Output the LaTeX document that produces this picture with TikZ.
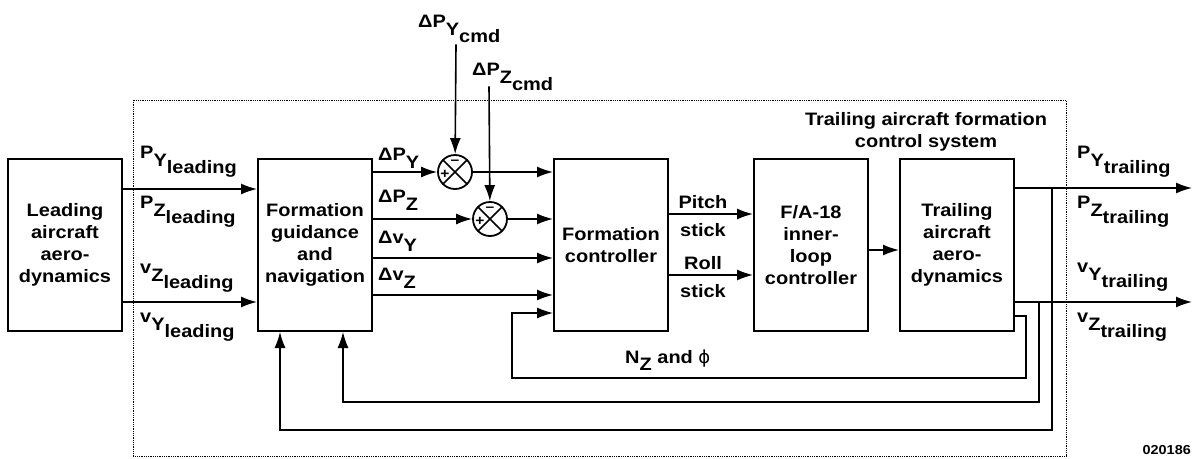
\documentclass[tikz,border=0pt]{standalone}
\usepackage{fontspec}
\setmainfont{Liberation Sans}[FakeStretch=1.11]
\newfontfamily\symfont{DejaVu Sans}
\usetikzlibrary{positioning,arrows.meta}

\newcommand{\sig}[3]{#1\raisebox{-8pt}{#2}\raisebox{-15pt}{#3}}

\begin{document}
\begin{tikzpicture}[
x=1pt, y=-1pt,
font=\fontsize{18}{22}\selectfont\bfseries,
block/.style={rectangle, draw, line width=2pt, align=center, minimum width=114pt, minimum height=172pt, inner sep=0pt},
lbl/.style={inner sep=0pt, anchor=base west},
sum/.style={circle, draw, line width=1.8pt, minimum size=34pt, inner sep=0pt,
  path picture={
    \draw[line width=1.6pt] (path picture bounding box.north west) -- (path picture bounding box.south east)
      (path picture bounding box.north east) -- (path picture bounding box.south west);
    \node[font=\fontsize{14}{14}\selectfont\bfseries, inner sep=0pt] at ([xshift=-10pt,yshift=-2pt]path picture bounding box.center) {+};
    \node[font=\fontsize{14}{14}\selectfont\bfseries, inner sep=0pt] at ([yshift=10pt]path picture bounding box.center) {–};
  }},
arrow/.style={-{Latex[length=16pt,width=11pt]}, line width=1.6pt},
fb/.style={line width=1.3pt}
]
\useasboundingbox (0,0) rectangle (1193,458);

% system frame
\draw[densely dotted, line width=0.8pt] (133,100) rectangle (1066,456);
\node (title) at (926,132) [align=center] {Trailing aircraft formation\\control system};

% blocks
\node[block] (lead) at (65,245) {Leading\\aircraft\\aero-\\dynamics};
\node[block, right=134pt of lead] (guid) {Formation\\guidance\\and\\navigation};
\node[block, right=180pt of guid] (ctrl) {Formation\\controller};
\node[block, right=84pt of ctrl] (fa) {F/A-18\\inner-\\loop\\controller};
\node[block, right=30pt of fa] (trail) {Trailing\\aircraft\\aero-\\dynamics};

\node[sum] (s1) at (455,172) {};
\node[sum] (s2) at (490,219) {};

% signal labels
\node[lbl] (pyl) at (140,158) {\sig{P}{Y}{leading}};
\node[lbl] (pzl) at (140,208) {\sig{P}{Z}{leading}};
\node[lbl] (vzl) at (140,273) {\sig{v}{Z}{leading}};
\node[lbl] (vyl) at (140,322) {\sig{v}{Y}{leading}};

\node[lbl] (dpy) at (378,160) {\sig{ΔP}{Y}{}};
\node[lbl] (dpz) at (378,202) {\sig{ΔP}{Z}{}};
\node[lbl] (dvy) at (378,243) {\sig{Δv}{Y}{}};
\node[lbl] (dvz) at (378,280) {\sig{Δv}{Z}{}};

\node[lbl] (cmdy) at (418,27) {\sig{ΔP}{Y}{cmd}};
\node[lbl] (cmdz) at (472,75) {\sig{ΔP}{Z}{cmd}};

\node (pitch) at (703,216) [align=center] {Pitch\\[6pt]stick};
\node (roll) at (703,277) [align=center] {Roll\\[6pt]stick};

\node[lbl] (pyt) at (1077,158) {\sig{P}{Y}{trailing}};
\node[lbl] (pzt) at (1077,208) {\sig{P}{Z}{trailing}};
\node[lbl] (vyt) at (1077,272) {\sig{v}{Y}{trailing}};
\node[lbl] (vzt) at (1077,322) {\sig{v}{Z}{trailing}};

\node[lbl] (nz) at (625,363) {N\raisebox{-7pt}{Z} and {\symfont\mdseries ϕ}};
\node[inner sep=0pt, anchor=base east, font=\fontsize{13}{15}\selectfont\bfseries] (fig) at (1191,454) {020186};

% forward paths
\draw[arrow] ([yshift=56pt]lead.east) -- ([yshift=56pt]guid.west);
\draw[arrow] ([yshift=-57pt]lead.east) -- ([yshift=-57pt]guid.west);

\draw[arrow] (guid.east |- s1) -- (s1);
\draw[arrow] (s1) -- (ctrl.west |- s1);
\draw[arrow] (guid.east |- s2) -- (s2);
\draw[arrow] (s2) -- (ctrl.west |- s2);
\draw[arrow] ([yshift=-13pt]guid.east) -- ([yshift=-13pt]ctrl.west);
\draw[arrow] ([yshift=-50pt]guid.east) -- ([yshift=-50pt]ctrl.west);

\draw[arrow] ([xshift=38pt,yshift=-2pt]cmdy.south west) -- (s1);
\draw[arrow] ([xshift=17pt,yshift=4pt]cmdz.south west) -- (s2);

\draw[arrow] ([yshift=31pt]ctrl.east) -- ([yshift=31pt]fa.west);
\draw[arrow] ([yshift=-30pt]ctrl.east) -- ([yshift=-30pt]fa.west);
\draw[arrow] ([yshift=-5pt]fa.east) -- ([yshift=-5pt]trail.west);

\coordinate (outp) at (1192,188);
\coordinate (outv) at (1192,302);
\draw[arrow] ([yshift=57pt]trail.east) -- (outp);
\draw[arrow] ([yshift=-57pt]trail.east) -- (outv);

% feedback paths
\coordinate (tapp) at (1052,188);
\coordinate (tapv) at (1039,302);
\draw[arrow, fb] ([yshift=-71pt]trail.east) -- ++(11,0) |- (512,378) |- ([yshift=-68pt]ctrl.west);
\draw[arrow, fb] (tapv) -- (tapv |- 0,402) -| ([xshift=28pt]guid.south);
\draw[arrow, fb] (tapp) -- (tapp |- 0,430) -| ([xshift=-35pt]guid.south);

\end{tikzpicture}
\end{document}
